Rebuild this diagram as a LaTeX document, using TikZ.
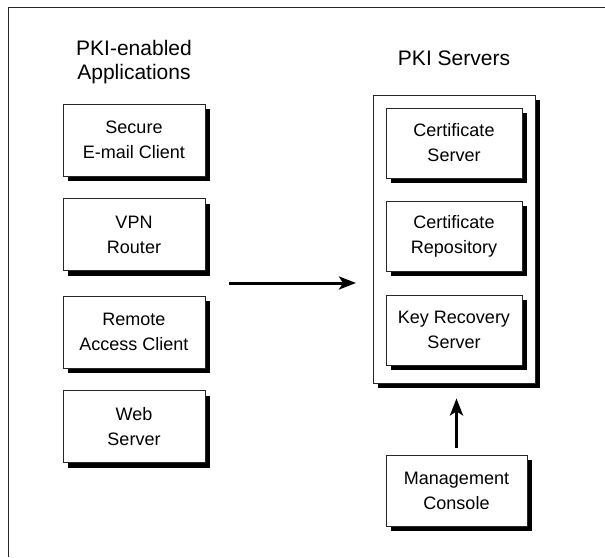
\documentclass[tikz,border=0pt]{standalone}
\usepackage{fontspec}
\setmainfont{Liberation Sans}
\usetikzlibrary{arrows.meta}
\usetikzlibrary{shadows}

\tikzset{
  box/.style={draw=black!85, fill=white, line width=.8pt, align=center, inner sep=0pt,
    font=\fontsize{18}{25}\selectfont,
    drop shadow={shadow xshift=5pt, shadow yshift=-5pt, fill=black, opacity=1}},
  title/.style={align=center, font=\fontsize{21}{24}\selectfont},
  flow/.style={line width=3pt, -{Stealth[length=17pt, width=13pt, inset=4pt]}},
}

\begin{document}
\begin{tikzpicture}[x=1pt, y=-1pt]
\useasboundingbox (0,0) rectangle (605,557);

% frame
\draw[black!85, line width=1.6pt] (605,7.5)--(8.5,7.5)--(8.5,557);

% titles
\node [title] (apptitle) at (134,62) {PKI-enabled\\Applications};
\node [title] (srvtitle) at (454,58) {PKI Servers};

% applications
\node [box, minimum width=142pt, minimum height=72pt] (mail) at (134,140) {Secure\\E-mail Client};
\node [box, minimum width=142pt, minimum height=72pt] (vpn) at (134,234.5) {VPN\\Router};
\node [box, minimum width=142pt, minimum height=72pt] (remote) at (134,332) {Remote\\Access Client};
\node [box, minimum width=142pt, minimum height=72pt] (web) at (134,426.5) {Web\\Server};

% servers
\node [box, minimum width=162pt, minimum height=288pt] (servers) at (454,239) {};
\node [box, minimum width=136pt, minimum height=70pt] (certsrv) at (454,143) {Certificate\\Server};
\node [box, minimum width=136pt, minimum height=70pt] (repo) at (454,236) {Certificate\\Repository};
\node [box, minimum width=136pt, minimum height=70pt] (keyrec) at (454,330) {Key Recovery\\Server};

\node [box, minimum width=141pt, minimum height=71pt] (console) at (456.5,490.5) {Management\\Console};

% arrows
\coordinate (appsout) at (229,283);
\coordinate (srvin) at (356,283);
\draw[flow] (appsout)--(srvin);
\draw[flow] ([yshift=7pt]console.north)--([yshift=-15pt]servers.south -| console.north);
\end{tikzpicture}
\end{document}
